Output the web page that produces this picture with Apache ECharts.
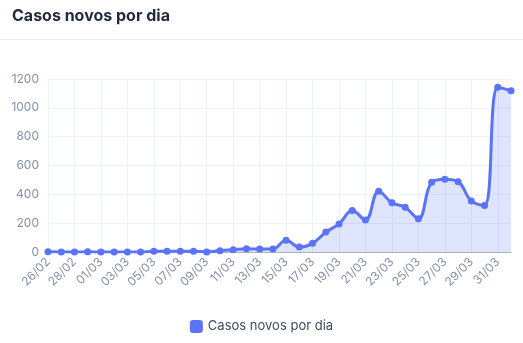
<!DOCTYPE html>
<html>
<head>
<meta charset="utf-8">
<script src="https://cdn.jsdelivr.net/npm/echarts@6/dist/echarts.min.js"></script>
<style>
  html, body { margin: 0; padding: 0; background: #ffffff; }
  #chart { width: 523px; height: 343px; }
</style>
</head>
<body>
<div id="chart"></div>
<script>
// Daily new cases, 26/02 to 01/04
const dates = [
  '26/02', '27/02', '28/02', '29/02', '01/03', '02/03', '03/03', '04/03', '05/03',
  '06/03', '07/03', '08/03', '09/03', '10/03', '11/03', '12/03', '13/03', '14/03',
  '15/03', '16/03', '17/03', '18/03', '19/03', '20/03', '21/03', '22/03', '23/03',
  '24/03', '25/03', '26/03', '27/03', '28/03', '29/03', '30/03', '31/03', '01/04'
];
const newCases = [
  1, 0, 0, 1, 0, 0, 0, 0, 5,
  5, 6, 6, 0, 9, 16, 23, 20, 21,
  81, 34, 60, 138, 195, 287, 222, 422, 342,
  311, 231, 483, 504, 488, 353, 323, 1142, 1119
];
const yTicks = { min: 0, max: 1200, step: 200 };
const seriesName = 'Casos novos por dia';

const font = 'Inter, "Noto Sans", sans-serif';
const chart = echarts.init(document.getElementById('chart'), null, { renderer: 'canvas' });

chart.setOption({
  backgroundColor: '#ffffff',
  animation: false,
  title: {
    text: 'Casos novos por dia',
    left: 7,
    top: 3,
    textStyle: { fontFamily: font, fontSize: 16, fontWeight: 'bold', color: '#1f2a3d' }
  },
  graphic: [{
    type: 'line',
    shape: { x1: 0, y1: 39.5, x2: 523, y2: 39.5 },
    style: { stroke: '#e4ebf3', lineWidth: 1 }
  }],
  legend: {
    bottom: 5,
    left: 'center',
    itemWidth: 13,
    itemHeight: 13,
    itemGap: 12,
    icon: 'roundRect',
    textStyle: { fontFamily: font, fontSize: 13, color: '#3f4a5a' },
    data: [seriesName]
  },
  grid: { left: 48, right: 12, top: 79, bottom: 91, containLabel: false },
  xAxis: {
    type: 'category',
    data: dates,
    boundaryGap: false,
    axisLine: { show: true, lineStyle: { color: '#a9b2bf', width: 1 } },
    axisTick: { show: false },
    axisLabel: {
      interval: 1,
      rotate: 45,
      margin: 8,
      fontFamily: font,
      fontSize: 12,
      color: '#8391a7'
    },
    splitLine: { show: true, interval: 1, lineStyle: { color: '#edf2f9', width: 1 } }
  },
  yAxis: {
    type: 'value',
    min: yTicks.min,
    max: yTicks.max,
    interval: yTicks.step,
    axisLine: { show: false },
    axisTick: { show: false },
    axisLabel: {
      margin: 9,
      fontFamily: font,
      fontSize: 12,
      color: '#8391a7',
      formatter: (v) => String(v)
    },
    splitLine: { show: true, lineStyle: { color: '#edf2f9', width: 1 } }
  },
  series: [{
    name: seriesName,
    type: 'line',
    data: newCases,
    smooth: 0.4,
    symbol: 'circle',
    symbolSize: 7,
    showAllSymbol: true,
    itemStyle: { color: '#5a73f7' },
    lineStyle: { color: '#5a73f7', width: 3 },
    areaStyle: { color: 'rgba(90,115,247,0.28)' }
  }]
});
</script>
</body>
</html>
